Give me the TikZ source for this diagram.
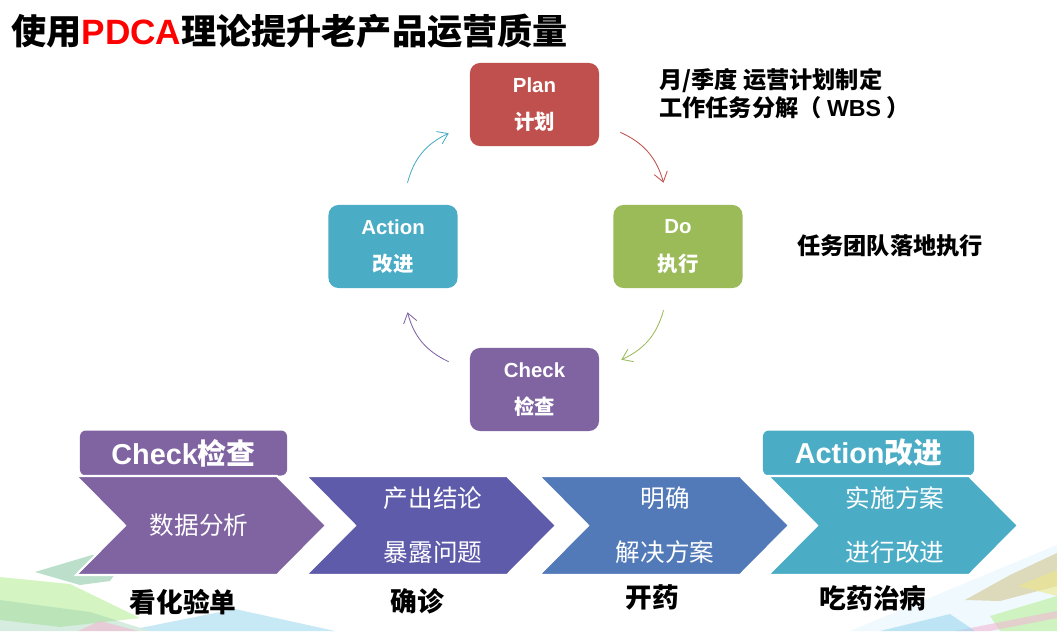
\documentclass[tikz,border=0pt]{standalone}
\usepackage{fontspec}
\setmainfont{Noto Sans CJK SC}
\newfontfamily\lat{Liberation Sans}
\usetikzlibrary{calc,arrows.meta}
\definecolor{planred}{HTML}{C0504D}
\definecolor{dogreen}{HTML}{9BBB59}
\definecolor{checkpurple}{HTML}{8064A2}
\definecolor{actionblue}{HTML}{4BACC6}
\definecolor{chevblue}{HTML}{5E5BAA}
\definecolor{chevsteel}{HTML}{527AB9}
\definecolor{decogreen}{HTML}{B8EE98}
\definecolor{decoteal}{HTML}{8FCBA8}
\definecolor{decoblue}{HTML}{9AD6EE}
\definecolor{decopink}{HTML}{F2B8D4}
\definecolor{decokhaki}{HTML}{CFC68E}
\definecolor{decoyellow}{HTML}{EEE68A}

\begin{document}
\begin{tikzpicture}[x=0.025cm,y=-0.025cm,>={Straight Barb[length=2.4mm,width=3.4mm]},
	phase/.style={rounded corners=0.25cm,minimum width=3.225cm,minimum height=2.075cm,inner sep=0pt,
		text=white,align=center,font=\fontsize{14.5}{26.5}\selectfont\bfseries},
	flow/.style={->,line width=0.6pt},
	note/.style={inner sep=0pt,align=left,font=\fontsize{16.5}{20}\selectfont\bfseries},
	tab/.style={rounded corners=0.15cm,minimum height=1.125cm,inner sep=0pt,text=white,
		font=\fontsize{20.5}{24}\selectfont\bfseries},
	chevtext/.style={inner sep=0pt,text=white,align=center,font=\fontsize{17.5}{38.4}\selectfont},
	verdict/.style={inner sep=0pt,font=\fontsize{19}{22}\selectfont\bfseries}]
	\useasboundingbox[fill=white] (0,0) rectangle (1057,631);
	% background shards, bottom left
	\fill[decogreen,opacity=.6] (0,577) -- (70,584) -- (140,618) -- (60,627) -- (0,620) -- cycle;
	\fill[decoteal,opacity=.6] (35,572) -- (92,555) -- (125,560) -- (110,581) -- (80,585) -- cycle;
	\fill[decoteal,opacity=.35] (0,600) -- (90,612) -- (150,631) -- (0,631) -- cycle;
	\fill[decoblue,opacity=.55] (140,628) -- (235,609) -- (335,631) -- (150,631) -- cycle;
	\fill[decopink,opacity=.6] (78,631) -- (100,621) -- (138,631) -- cycle;
	% background shards, bottom right
	\fill[cyan!8,opacity=.7] (850,631) -- (1057,545) -- (1057,631) -- cycle;
	\fill[decokhaki,opacity=.6] (965,600) -- (1010,575) -- (1057,553) -- (1057,586) -- (1000,601) -- cycle;
	\fill[decoyellow,opacity=.6] (1018,586) -- (1057,570) -- (1057,596) -- cycle;
	\fill[decogreen,opacity=.6] (990,616) -- (1057,596) -- (1057,631) -- (1000,631) -- cycle;
	\fill[decopink,opacity=.6] (955,631) -- (1057,611) -- (1057,618) -- (990,631) -- cycle;
	\fill[decoblue,opacity=.6] (880,631) -- (950,614) -- (975,631) -- cycle;

	\node[anchor=west,inner sep=0pt,font=\fontsize{25}{30}\selectfont\bfseries] (T) at (11,31)
	{使用{\lat\color{red}PDCA}理论提升老产品运营质量};

	% PDCA cycle
	\node[phase,fill=planred] (P) at (534.5,104.5) {{\lat Plan}\\计划};
	\node[phase,fill=dogreen] (D) at (678,246.5) {{\lat Do}\\执行};
	\node[phase,fill=checkpurple] (C) at (534.5,389.5) {{\lat Check}\\检查};
	\node[phase,fill=actionblue] (A) at (393,246.5) {{\lat Action}\\改进};
	\draw[flow,planred] ($(P.south east)+(21,-14)$) to[bend left=25] ($(D.north)+(-14.5,-22)$);
	\draw[flow,dogreen] ($(D.south)+(-14.5,22)$) to[bend left=25] ($(C.north east)+(22,12)$);
	\draw[flow,checkpurple] ($(C.north west)+(-21,14)$) to[bend left=25] ($(A.south)+(14.5,24)$);
	\draw[flow,actionblue] ($(A.north)+(14.5,-22)$) to[bend left=25] ($(P.south west)+(-21,-13)$);

	\node[note,anchor=west] (N1) at (659,94) {月/季度 运营计划制定\\工作任务分解（ {\lat WBS} ）};
	\node[note] (N2) at (890,246) {任务团队落地执行};

	% chevron strip
	\node[tab,fill=checkpurple,minimum width=5.175cm] (K) at (183.5,453) {{\lat Check}检查};
	\node[tab,fill=actionblue,minimum width=5.275cm] (R) at (868.5,453) {{\lat Action}改进};
	\foreach \x/\c in {76/checkpurple,306/chevblue,539/chevsteel,768/actionblue}
		\filldraw[fill=\c,draw=white,line width=1.5pt] (\x,476) -- ++(201,0) -- ++(49,49.5)
		-- ++(-49,49.5) -- ++(-201,0) -- ++(49,-49.5) -- cycle;
	\node[chevtext] (S1) at (199,525) {数据分析};
	\node[chevtext] (S2) at (433,525) {产出结论\\暴露问题};
	\node[chevtext] (S3) at (665,525) {明确\\解决方案};
	\node[chevtext] (S4) at (895,525) {实施方案\\进行改进};

	\node[verdict] (V1) at (183,602) {看化验单};
	\node[verdict] (V2) at (417,601) {确诊};
	\node[verdict] (V3) at (652,597) {开药};
	\node[verdict] (V4) at (873,598) {吃药治病};
\end{tikzpicture}
\end{document}
